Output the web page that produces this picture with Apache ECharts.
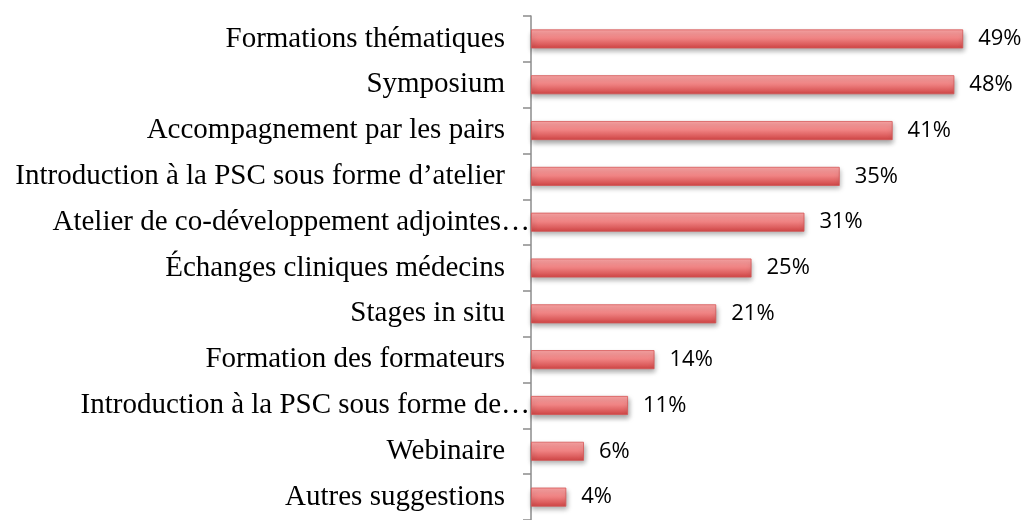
<html lang="fr">
  <head>
    <meta charset="UTF-8" />
    <title>Formations</title>
  </head>
  <body style="margin: 0; background: #fff">
    <div id="main" style="width: 1027px; height: 520px"></div>

    <script src="https://cdnjs.cloudflare.com/ajax/libs/echarts/6.0.0/echarts.min.js"></script>
    <script>
      // categories de haut en bas
      const categories = [
        'Formations thématiques',
        'Symposium',
        'Accompagnement par les pairs',
        'Introduction à la PSC sous forme d’atelier',
        'Atelier de co-développement adjointes…',
        'Échanges cliniques médecins',
        'Stages in situ',
        'Formation des formateurs',
        'Introduction à la PSC sous forme de…',
        'Webinaire',
        'Autres suggestions'
      ]
      const values = [49, 48, 41, 35, 31, 25, 21, 14, 11, 6, 4]

      // les libellés tronqués débordent jusqu'à l'axe
      const longLabels = [
        'Atelier de co-développement adjointes…',
        'Introduction à la PSC sous forme de…'
      ]

      let mCharts = echarts.init(document.querySelector('#main'))
      let option = {
        animation: false,
        grid: { left: 531, top: 16, width: 441, height: 506 },
        xAxis: {
          type: 'value',
          min: 0,
          max: 50,
          show: false
        },
        yAxis: {
          type: 'category',
          inverse: true,
          data: categories.map(c =>
            longLabels.includes(c)
              ? { value: c, textStyle: { padding: [3, -25, 0, 0] } }
              : c
          ),
          axisLine: { show: true, lineStyle: { color: '#8c8c8c', width: 1.5 } },
          axisTick: {
            show: true,
            length: 8,
            lineStyle: { color: '#8c8c8c', width: 1.5 }
          },
          axisLabel: {
            margin: 26,
            padding: [3, 0, 0, 0],
            color: '#000',
            fontFamily: 'Liberation Serif',
            fontSize: 29
          },
          splitLine: { show: false }
        },
        series: [
          {
            type: 'bar',
            data: values,
            barWidth: 19,
            itemStyle: {
              color: new echarts.graphic.LinearGradient(0, 0, 0, 1, [
                { offset: 0, color: '#fba6a6' },
                { offset: 0.45, color: '#f18585' },
                { offset: 1, color: '#cf4444' }
              ]),
              borderColor: '#d65656',
              borderWidth: 0.8,
              shadowColor: 'rgba(0,0,0,0.35)',
              shadowBlur: 5,
              shadowOffsetY: 3,
              shadowOffsetX: 1
            },
            label: {
              show: true,
              position: 'right',
              distance: 15,
              formatter: '{c}%',
              color: '#000',
              fontFamily: 'Open Sans',
              fontSize: 22
            }
          }
        ]
      }
      mCharts.setOption(option)
    </script>
  </body>
</html>
